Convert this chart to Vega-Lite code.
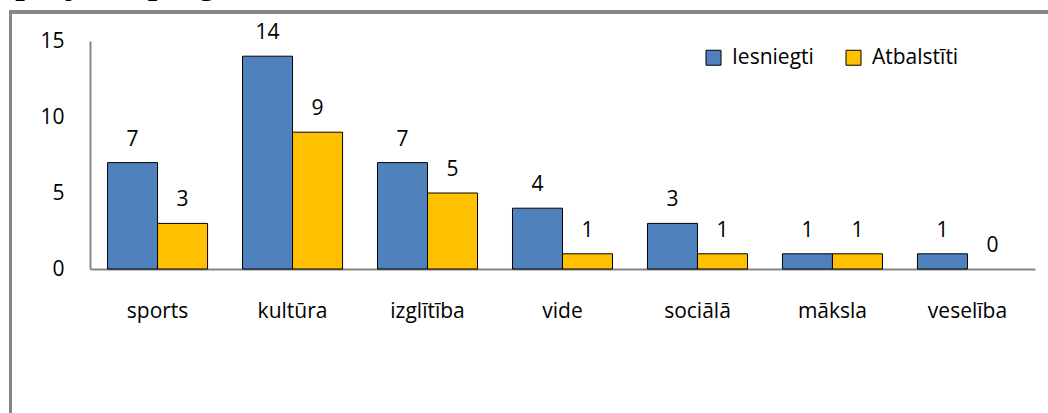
{
  "$schema": "https://vega.github.io/schema/vega-lite/v6.json",
  "autosize": {"type": "none"},
  "padding": {"left": 90, "top": 41, "right": 13, "bottom": 144},
  "width": 945,
  "height": 228,
  "background": "white",
  "title": {
    "text": "a projekta programmā.",
    "font": "Liberation Serif",
    "fontSize": 34,
    "fontWeight": "bold",
    "color": "#000000",
    "anchor": "start",
    "frame": "bounds",
    "orient": "top",
    "baseline": "alphabetic",
    "offset": 0,
    "dx": -18,
    "dy": 17
  },
  "data": {
    "values": [
      {"cat": "sports", "series": "Iesniegti", "value": 7},
      {"cat": "sports", "series": "Atbalstīti", "value": 3},
      {"cat": "kultūra", "series": "Iesniegti", "value": 14},
      {"cat": "kultūra", "series": "Atbalstīti", "value": 9},
      {"cat": "izglītība", "series": "Iesniegti", "value": 7},
      {"cat": "izglītība", "series": "Atbalstīti", "value": 5},
      {"cat": "vide", "series": "Iesniegti", "value": 4},
      {"cat": "vide", "series": "Atbalstīti", "value": 1},
      {"cat": "sociālā", "series": "Iesniegti", "value": 3},
      {"cat": "sociālā", "series": "Atbalstīti", "value": 1},
      {"cat": "māksla", "series": "Iesniegti", "value": 1},
      {"cat": "māksla", "series": "Atbalstīti", "value": 1},
      {"cat": "veselība", "series": "Iesniegti", "value": 1},
      {"cat": "veselība", "series": "Atbalstīti", "value": 0}
    ]
  },
  "layer": [
    {
      "mark": {"type": "bar", "stroke": "#000000", "strokeWidth": 1},
      "encoding": {
        "x": {
          "field": "cat", "type": "nominal", "sort": null,
          "scale": {"paddingInner": 0.259, "paddingOuter": 0.13},
          "axis": {
            "title": null, "labelAngle": 0, "ticks": false,
            "domainColor": "#868686", "domainWidth": 2,
            "labelFont": "Open Sans", "labelFontSize": 21, "labelColor": "#000000",
            "labelPadding": 31
          }
        },
        "xOffset": {"field": "series", "type": "nominal", "sort": ["Iesniegti", "Atbalstīti"]},
        "y": {
          "field": "value", "type": "quantitative",
          "scale": {"domain": [0, 15], "nice": false},
          "axis": {
            "title": null, "values": [0, 5, 10, 15], "ticks": false, "grid": false,
            "domainColor": "#868686", "domainWidth": 2,
            "labelFont": "Open Sans", "labelFontSize": 21, "labelColor": "#000000",
            "labelPadding": 26
          }
        },
        "color": {
          "field": "series", "type": "nominal", "sort": ["Iesniegti", "Atbalstīti"],
          "scale": {"domain": ["Iesniegti", "Atbalstīti"], "range": ["#4F81BD", "#FFC000"]},
          "legend": {
            "title": null, "orient": "none", "legendX": 613, "legendY": 6,
            "direction": "horizontal", "symbolType": "square", "symbolSize": 225,
            "symbolStrokeColor": "#000000", "symbolStrokeWidth": 1, "symbolOpacity": 1,
            "labelFont": "Open Sans", "labelFontSize": 21, "labelColor": "#000000",
            "labelOffset": 8, "columnPadding": 29, "padding": 0
          }
        },
        "strokeOpacity": {
          "condition": {"test": "datum.value === 0", "value": 0},
          "value": 1
        }
      }
    },
    {
      "mark": {"type": "text", "font": "Open Sans", "fontSize": 21, "color": "#000000", "baseline": "alphabetic", "dy": -17},
      "encoding": {
        "x": {"field": "cat", "type": "nominal", "sort": null},
        "xOffset": {"field": "series", "type": "nominal", "sort": ["Iesniegti", "Atbalstīti"]},
        "y": {"field": "value", "type": "quantitative", "scale": {"domain": [0, 15], "nice": false}},
        "text": {"field": "value", "type": "quantitative"}
      }
    },
    {
      "mark": {"type": "rule", "color": "#878787", "strokeWidth": 2.5},
      "encoding": {
        "x": {"datum": "sports", "type": "nominal", "bandPosition": -0.97},
        "y": {"datum": 16.91, "type": "quantitative", "scale": {"domain": [0, 15], "nice": false}},
        "y2": {"datum": -10}
      }
    },
    {
      "mark": {"type": "rule", "color": "#878787", "strokeWidth": 2.5},
      "encoding": {
        "x": {"datum": "sports", "type": "nominal", "bandPosition": -0.985},
        "x2": {"datum": "veselība", "bandPosition": 1.6},
        "y": {"datum": 16.91, "type": "quantitative", "scale": {"domain": [0, 15], "nice": false}}
      }
    }
  ],
  "config": {
    "view": {"stroke": null}
  }
}
